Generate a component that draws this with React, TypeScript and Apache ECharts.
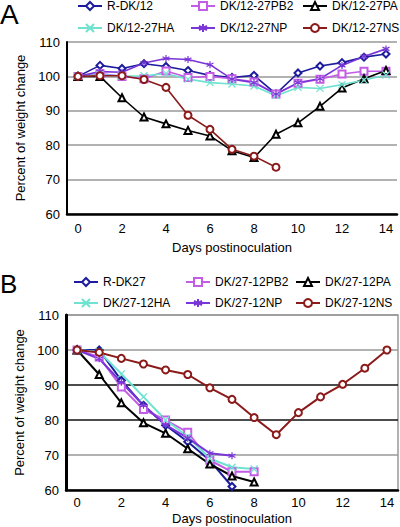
import React, { useEffect, useRef } from "react";
import * as echarts from "echarts";

const FONT = "'Liberation Sans', Arial, Helvetica, sans-serif";

const days = ["0", "1", "2", "3", "4", "5", "6", "7", "8", "9", "10", "11", "12", "13", "14"];
const yTicks = { min: 60, max: 110, step: 10 };

// Panel A
const namesA = ["R-DK/12", "DK/12-27PB2", "DK/12-27PA", "DK/12-27HA", "DK/12-27NP", "DK/12-27NS"];
const rdk12 = [100, 103.2, 102.3, 103.7, 102.9, 101.7, 100.3, 99.7, 100.3, 94.9, 101.0, 103.0, 104.0, 105.6, 106.5];
const pb2A = [100, 100.8, 100.0, 99.3, 101.6, 99.7, 100.0, 99.3, 98.4, 94.9, 98.0, 99.2, 100.7, 101.5, 101.5];
const paA = [100, 100.0, 93.8, 88.2, 86.2, 84.3, 82.7, 78.4, 76.4, 83.2, 86.5, 91.3, 96.6, 99.3, 101.7];
const haA = [100, 100.5, 100.1, 100.2, 100.8, 99.2, 98.2, 97.8, 97.2, 94.4, 96.8, 96.5, 97.6, 98.9, 100.4];
const npA = [100, 101.4, 101.2, 103.9, 105.2, 104.9, 103.4, 99.2, 98.2, 94.9, 98.2, 99.3, 103.2, 105.8, 108.0];
const nsA = [100, 100.2, 100.2, 99.1, 96.8, 88.7, 84.6, 78.8, 76.8, 73.6];

// Panel B
const namesB = ["R-DK27", "DK/27-12PB2", "DK/27-12PA", "DK/27-12HA", "DK/27-12NP", "DK/27-12NS"];
const rdk27 = [100, 100, 91.3, 84.2, 78.5, 73.8, 68.4, 61.0];
const pb2B = [100, 98.0, 89.4, 83.0, 80.0, 76.5, 68.5, 65.2, 65.2];
const paB = [100, 93.0, 84.9, 79.2, 76.2, 71.8, 67.4, 64.0, 62.3];
const haB = [100, 99.5, 93.2, 86.6, 80.0, 75.3, 69.0, 66.5, 66.0];
const npB = [100, 97.5, 90.8, 84.2, 78.6, 74.8, 70.5, 69.8];
const nsB = [100, 99.3, 97.6, 96.0, 94.3, 93.0, 89.2, 85.9, 80.7, 75.8, 82.1, 86.6, 90.2, 94.8, 100];

const colors = ["#1c1c9c", "#c45ce6", "#000000", "#6fe3d0", "#7a35d8", "#8b1a1a"];
const X_SYM = "path://M0,0L10,10M10,0L0,10";
const AST_SYM = "path://M5,0L5,10M0.7,2.5L9.3,7.5M0.7,7.5L9.3,2.5";
const symbols = ["emptyDiamond", "emptyRect", "emptyTriangle", X_SYM, AST_SYM, "emptyCircle"];

function mkSeries(name: string, data: number[], i: number, idx: number, width: number) {
  return {
    type: "line",
    name,
    data,
    xAxisIndex: idx,
    yAxisIndex: idx,
    symbol: symbols[i],
    symbolSize: 7,
    lineStyle: { color: colors[i], width },
    itemStyle: { color: colors[i], borderColor: colors[i], borderWidth: 1.2 },
    emphasis: { disabled: true },
  };
}

function mkX(idx: number, margin: number, nameGap: number) {
  return {
    gridIndex: idx,
    type: "category",
    data: days,
    boundaryGap: true,
    axisLine: { lineStyle: { color: "#000", width: 2.5 } },
    axisTick: { inside: true, length: 3, interval: 0, lineStyle: { color: "#000", width: 1.5 } },
    axisLabel: { interval: 1, fontSize: 13, color: "#000", margin, fontFamily: FONT },
    splitLine: { show: false },
    name: "Days postinoculation",
    nameLocation: "middle",
    nameGap,
    nameTextStyle: { fontSize: 13, color: "#000", fontFamily: FONT },
  };
}

function mkY(idx: number, lineW: number, splitColors: string[] | string) {
  return {
    gridIndex: idx,
    type: "value",
    min: yTicks.min,
    max: yTicks.max,
    interval: yTicks.step,
    axisLine: { show: true, lineStyle: { color: "#000", width: lineW } },
    axisTick: { show: false },
    axisLabel: { fontSize: 13, color: "#000", margin: 7, fontFamily: FONT },
    splitLine: { show: true, lineStyle: { color: splitColors, width: 1.5 } },
    name: "Percent of weight change",
    nameLocation: "middle",
    nameGap: 32,
    nameTextStyle: { fontSize: 13, color: "#000", fontFamily: FONT },
  };
}

function mkLegend(left: number, top: number, gap: number, data: string[]) {
  return {
    left,
    top,
    orient: "vertical",
    padding: 0,
    itemGap: gap,
    itemWidth: 24,
    itemHeight: 10,
    selectedMode: false,
    textStyle: { fontSize: 12, lineHeight: 12, color: "#000", fontFamily: FONT },
    data,
  };
}

export default function App() {
  const ref = useRef<HTMLDivElement>(null);
  useEffect(() => {
    const chart = echarts.init(ref.current!, null, { renderer: "svg" });
    const seriesA = [rdk12, pb2A, paA, haA, npA, nsA].map((d, i) => mkSeries(namesA[i], d, i, 0, 1.6));
    const seriesB = [rdk27, pb2B, paB, haB, npB, nsB].map((d, i) => mkSeries(namesB[i], d, i, 1, 2));
    chart.setOption({
      animation: false,
      backgroundColor: "#fff",
      textStyle: { fontFamily: FONT },
      grid: [
        { left: 67, right: 3, top: 42, height: 172 },
        { left: 66, right: 2, top: 315, height: 175, show: true, borderColor: "#999", borderWidth: 1.5 },
      ],
      xAxis: [mkX(0, 8, 27), mkX(1, 6, 22)],
      yAxis: [
        mkY(0, 2, "#999"),
        mkY(1, 3, ["#999", "#999", "#111", "#111", "#999", "#999"]),
      ],
      legend: [
        mkLegend(77, 0, 10, [namesA[0], namesA[3]]),
        mkLegend(190, 0, 10, [namesA[1], namesA[4]]),
        mkLegend(302, 0, 10, [namesA[2], namesA[5]]),
        mkLegend(73, 276, 9, [namesB[0], namesB[3]]),
        mkLegend(185, 276, 9, [namesB[1], namesB[4]]),
        mkLegend(295, 276, 9, [namesB[2], namesB[5]]),
      ],
      graphic: [
        { type: "text", x: 0, y: 14, style: { text: "A", fontSize: 28, fontFamily: FONT, fill: "#000", verticalAlign: "middle" } },
        { type: "text", x: 0, y: 284, style: { text: "B", fontSize: 26, fontFamily: FONT, fill: "#000", verticalAlign: "middle" } },
      ],
      series: [...seriesA, ...seriesB],
    });
    return () => chart.dispose();
  }, []);
  return (
    <div
      ref={ref}
      style={{ position: "fixed", left: 0, top: 0, width: 400, height: 527, background: "#fff" }}
    />
  );
}
